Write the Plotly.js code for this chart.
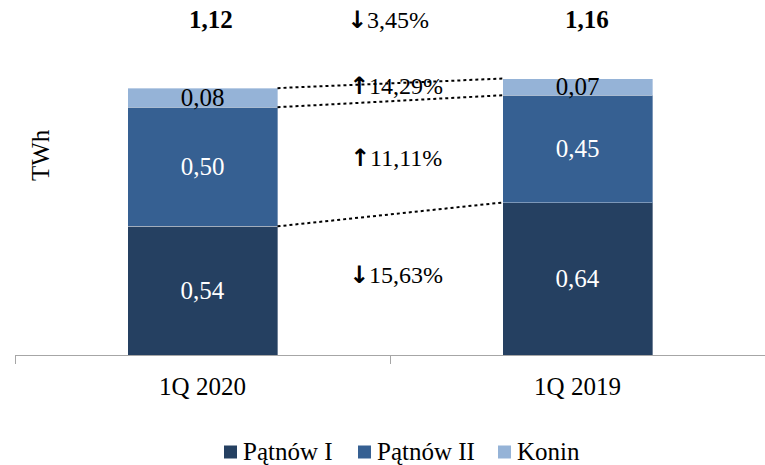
<!DOCTYPE html>
<html>
<head>
<meta charset="utf-8">
<script src="https://cdn.plot.ly/plotly-3.0.1.min.js"></script>
<style>html,body{margin:0;padding:0;background:#fff;}#chart{width:765px;height:465px;}</style>
</head>
<body>
<div id="chart"></div>
<script>
const categories = ['1Q 2020', '1Q 2019'];
const seriesNames = ['Pątnów I', 'Pątnów II', 'Konin'];
const patnowI = [0.54, 0.64];
const patnowII = [0.50, 0.45];
const konin = [0.08, 0.07];
const totals = [1.12, 1.16];
const yAxisTitle = 'TWh';

const FONT = 'Liberation Serif, Times New Roman, serif';
const ARROWFONT = 'DejaVu Sans';
const colors = ['#254061', '#366092', '#95B3D7'];
const textColors = ['#ffffff', '#ffffff', '#000000'];
const seriesValues = [patnowI, patnowII, konin];

const fmt = (v, d) => (v + 1e-9).toFixed(d).replace('.', ',');

const traces = seriesValues.map((vals, i) => ({
  type: 'bar',
  name: seriesNames[i],
  x: categories,
  y: vals,
  text: vals.map(v => fmt(v, 2)),
  texttemplate: '%{text}',
  textposition: 'inside',
  insidetextanchor: 'middle',
  textangle: 0,
  constraintext: 'none',
  textfont: {family: FONT, size: 25, color: textColors[i]},
  marker: {color: colors[i], line: {color: 'rgba(255,255,255,0.35)', width: 1}},
  hoverinfo: 'skip',
  showlegend: false
}));

// plot area geometry (pixels) used to place paper-referenced items
const PL = 15, PR = 765, PT = 50, PB = 355;
const px = x => (x - PL) / (PR - PL);
const py = y => (PB - y) / (PB - PT);

const barWidth = 0.4;
const shapes = [];
const annotations = [];
const cum = [[0, 0]];
seriesValues.forEach((vals, i) => {
  cum.push(vals.map((v, k) => cum[i][k] + v));
});
for (let i = 1; i <= seriesValues.length; i++) {
  shapes.push({
    type: 'line', xref: 'x', yref: 'y',
    x0: 0 + barWidth / 2, y0: cum[i][0],
    x1: 1 - barWidth / 2, y1: cum[i][1],
    line: {color: '#000', width: 2, dash: 'dot'}
  });
}
const arrowText = (a, b) => {
  const p = (a - b) / b * 100;
  const arrow = p < 0 ? '↓' : '↑';
  return '<span style="font-family:' + ARROWFONT + ';font-weight:bold">' + arrow + '</span>' + fmt(Math.abs(p), 2) + '%';
};
const yshifts = [10, 0, 6];
seriesValues.forEach((vals, i) => {
  const mid = ((cum[i][0] + vals[0] / 2) + (cum[i][1] + vals[1] / 2)) / 2;
  annotations.push({
    xref: 'x', yref: 'y', x: 0.5, y: mid, yshift: yshifts[i], xshift: 6,
    text: arrowText(vals[0], vals[1]), showarrow: false,
    font: {family: FONT, size: 24, color: '#000'}
  });
});
annotations.push({
  xref: 'x', yref: 'paper', x: 0.5, y: py(20), yanchor: 'middle', xshift: -2,
  text: arrowText(totals[0], totals[1]), showarrow: false,
  font: {family: FONT, size: 24, color: '#000'}
});
totals.forEach((t, k) => {
  annotations.push({
    xref: 'x', yref: 'paper', x: k, y: py(20), yanchor: 'middle', xshift: k === 0 ? 8 : 9,
    text: '<b>' + fmt(t, 2) + '</b>', showarrow: false,
    font: {family: FONT, size: 25, color: '#000'}
  });
});
annotations.push({
  xref: 'paper', yref: 'paper', x: px(40), y: py(155), xanchor: 'center', yanchor: 'middle',
  text: yAxisTitle, textangle: -90, showarrow: false,
  font: {family: FONT, size: 25, color: '#000'}
});

// custom legend (square + label) to match the compact spacing
const legendSquareX = [224, 358, 498];
const legendY = 451, sq = 13;
seriesNames.forEach((name, i) => {
  shapes.push({
    type: 'rect', xref: 'paper', yref: 'paper',
    x0: px(legendSquareX[i]), x1: px(legendSquareX[i] + sq),
    y0: py(legendY - sq / 2 + 1), y1: py(legendY + sq / 2 + 1),
    fillcolor: colors[i], line: {width: 0}
  });
  annotations.push({
    xref: 'paper', yref: 'paper', x: px(legendSquareX[i] + sq + 4), y: py(legendY),
    xanchor: 'left', yanchor: 'middle', text: name, showarrow: false,
    font: {family: FONT, size: 25, color: '#000'}
  });
});

const layout = {
  width: 765, height: 465,
  margin: {l: PL, r: 765 - PR, t: PT, b: 465 - PB},
  paper_bgcolor: '#fff', plot_bgcolor: '#fff',
  barmode: 'stack', bargap: 0.6,
  separators: ', ',
  font: {family: FONT, size: 25, color: '#000'},
  showlegend: false,
  xaxis: {
    type: 'category', range: [-0.5, 1.5],
    showline: true, linecolor: '#a6a6a6', linewidth: 1,
    ticks: 'outside', tickson: 'boundaries', ticklen: 8, tickcolor: '#a6a6a6',
    ticklabelstandoff: 9,
    showgrid: false, zeroline: false,
    tickfont: {family: FONT, size: 25, color: '#000'}
  },
  yaxis: {range: [0, 1.28], visible: false, showgrid: false, zeroline: false},
  shapes: shapes,
  annotations: annotations
};

Plotly.newPlot('chart', traces, layout, {displayModeBar: false, staticPlot: true});
</script>
</body>
</html>
